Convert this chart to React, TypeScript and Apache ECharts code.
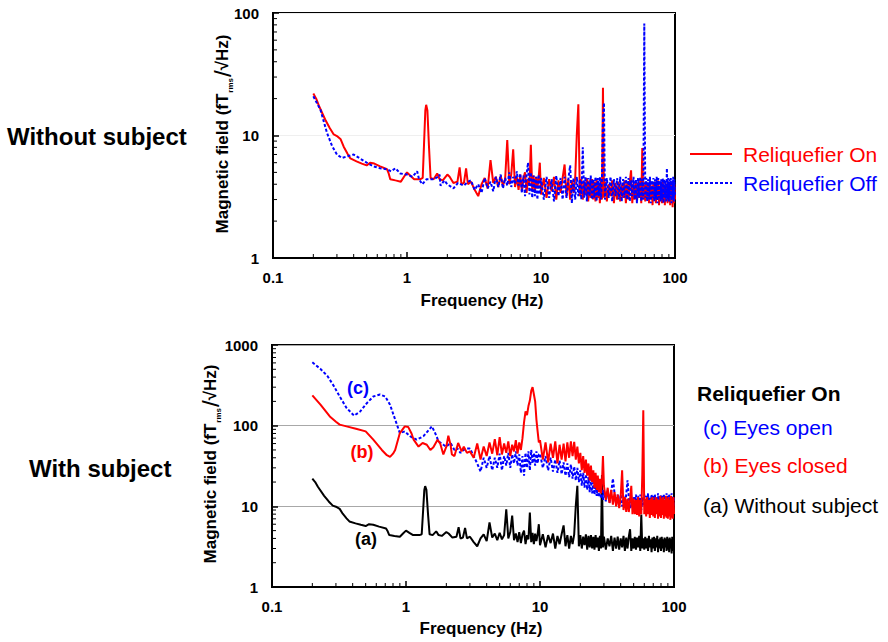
import React, { useEffect, useRef } from 'react';
import * as echarts from 'echarts';

const FONT = '"Liberation Sans", Arial, Helvetica, sans-serif';

// shared frequency grid (Hz) for the dense/noisy part of every spectrum
const noiseFreq = [
  3.0, 3.2, 3.4, 3.6, 3.8, 4.0, 4.2, 4.4, 4.6, 4.8,
  5.0, 5.2, 5.4, 5.6, 5.8, 6.0, 6.2, 6.4, 6.6, 6.8,
  7.0, 7.2, 7.4, 7.6, 7.8, 8.0, 8.2, 8.4, 8.6, 8.8,
  9.0, 9.2, 9.4, 9.6, 9.8,
  10, 10.5, 11, 11.5, 12, 12.5, 13, 13.5, 14, 14.5,
  15, 15.5, 16, 16.5, 17, 17.5, 18, 18.5, 19, 19.5,
  20, 20.5, 21, 21.5, 22, 22.5, 23, 23.5, 24, 24.5,
  25, 25.5, 26, 26.5, 27, 27.5, 28, 28.5, 29, 29.5,
  30, 31, 32, 33, 34, 35, 36, 37, 38, 39,
  40, 41, 42, 43, 44, 45, 46, 47, 48, 49,
  50, 51, 52, 53, 54, 55, 56, 57, 58, 59,
  60, 61, 62, 63, 64, 65, 66, 67, 68, 69,
  70, 71, 72, 73, 74, 75, 76, 77, 78, 79,
  80, 81, 82, 83, 84, 85, 86, 87, 88, 89,
  90, 91, 92, 93, 94, 95, 96, 97, 98, 99, 100,
];

// ---- Without subject: Reliquefier On (also curve (a) below) ----
const onLow = [
  [0.2, 22], [0.21, 20], [0.22, 17.5], [0.245, 13.5], [0.265, 11.5], [0.284, 10.2], [0.3, 9.9],
  [0.32, 9.3], [0.337, 8.1], [0.36, 7.1], [0.378, 6.5], [0.42, 6.15], [0.46, 5.9], [0.5, 5.7],
  [0.53, 6.0], [0.57, 5.9], [0.63, 5.6], [0.71, 5.3], [0.73, 4.9], [0.75, 4.4], [0.82, 4.3],
  [0.9, 4.2], [0.95, 4.6], [1.0, 5.0], [1.06, 4.7], [1.13, 4.4], [1.26, 4.4], [1.31, 4.5],
  [1.34, 8.5], [1.37, 16], [1.39, 17.8], [1.42, 16], [1.46, 8], [1.5, 4.5], [1.58, 4.4],
  [1.68, 4.9], [1.75, 4.4], [1.85, 4.3], [2.0, 4.8], [2.08, 4.6], [2.22, 4.1], [2.38, 4.2],
  [2.47, 5.5], [2.55, 4.0], [2.66, 4.1], [2.76, 5.4], [2.85, 4.0],
];
const onNoise = [
  4.2, 3.6, 3.2, 4.0, 4.5, 3.7, 6.3, 4.1, 4.6, 3.8,
  4.7, 3.9, 4.4, 9.2, 4.0, 4.8, 7.7, 3.8, 4.6, 3.6,
  4.8, 3.5, 4.5, 5.0, 3.4, 4.4, 3.9, 8.4, 3.6, 4.7,
  3.4, 4.6, 3.7, 4.5, 6.0,
  3.3, 4.5, 3.1, 4.4, 3.5, 4.6, 3.0, 4.3, 3.4, 4.5,
  5.8, 3.2, 4.4, 3.0, 4.3, 3.4, 4.5, 10.2, 18.0, 3.2,
  4.4, 3.0, 4.2, 3.3, 4.5, 2.9, 4.3, 3.1, 4.4, 3.0,
  4.2, 2.9, 4.4, 3.1, 4.1, 2.8, 4.3, 3.0, 24.5, 3.1,
  4.2, 2.9, 4.0, 3.2, 4.3, 2.8, 4.1, 3.0, 4.2, 2.9,
  4.0, 3.1, 4.3, 2.8, 4.1, 3.0, 4.2, 5.2, 2.8, 4.0,
  3.0, 4.2, 2.9, 4.1, 3.1, 4.3, 2.8, 7.9, 3.0, 4.0,
  2.9, 4.2, 3.0, 4.0, 2.8, 4.3, 3.1, 3.9, 2.7, 4.1,
  3.0, 4.2, 2.8, 4.0, 3.1, 4.3, 2.7, 3.9, 3.0, 4.1,
  2.8, 4.2, 3.0, 3.9, 2.7, 4.1, 3.1, 4.0, 2.8, 4.2,
  2.9, 4.0, 2.7, 4.1, 3.0, 3.9, 2.6, 4.2, 2.8, 4.0, 3.0,
];

// ---- Without subject: Reliquefier Off ----
const offLow = [
  [0.2, 20.9], [0.226, 16.2], [0.253, 10.5], [0.276, 8.2], [0.3, 7.0], [0.327, 6.55],
  [0.357, 6.75], [0.4, 7.0], [0.45, 6.45], [0.5, 6.0], [0.56, 5.6], [0.63, 5.4], [0.71, 5.3],
  [0.76, 5.1], [0.82, 5.4], [0.89, 4.9], [1.0, 4.8], [1.1, 4.6], [1.19, 5.1], [1.23, 4.4],
  [1.3, 4.0], [1.4, 4.4], [1.58, 4.4], [1.7, 4.6], [1.75, 4.8], [1.78, 3.9], [1.9, 4.3],
  [2.0, 4.0], [2.22, 3.7], [2.4, 4.1], [2.66, 3.9], [2.85, 4.2],
];
const offNoise = [
  4.3, 3.6, 4.0, 3.4, 4.5, 3.7, 4.2, 3.5, 4.6, 3.8,
  4.8, 3.7, 4.5, 3.9, 5.0, 3.8, 4.6, 4.0, 5.1, 3.9,
  4.9, 3.4, 4.7, 3.2, 4.8, 6.0, 3.3, 5.0, 3.1, 4.7,
  3.2, 4.6, 3.0, 4.8, 3.3,
  4.5, 3.0, 4.6, 3.1, 4.4, 2.9, 4.7, 3.2, 4.5, 3.0,
  4.6, 3.1, 4.4, 5.7, 2.8, 4.5, 3.0, 4.6, 3.2, 4.4,
  3.0, 8.0, 3.1, 4.6, 2.9, 4.5, 3.2, 4.7, 3.0, 4.4,
  3.1, 4.6, 2.9, 4.5, 3.2, 4.6, 3.0, 4.4, 13.0, 18.5,
  3.0, 4.5, 3.1, 4.6, 2.9, 4.4, 3.2, 4.5, 3.0, 4.6,
  2.9, 4.4, 3.1, 4.6, 3.0, 4.5, 2.9, 4.3, 3.2, 4.6,
  3.0, 4.4, 2.8, 4.5, 3.1, 4.6, 2.9, 4.4, 3.0, 82,
  3.1, 4.5, 2.9, 4.4, 3.0, 4.6, 2.8, 4.3, 3.1, 4.5,
  2.9, 4.4, 3.0, 4.6, 2.8, 4.5, 3.1, 4.3, 2.9, 4.4,
  3.0, 4.5, 2.8, 4.4, 3.1, 4.3, 2.9, 5.4, 3.0, 4.5,
  2.9, 4.4, 3.1, 4.5, 2.8, 4.3, 3.0, 4.6, 2.9, 4.4, 3.2,
];

// ---- With subject (b) Eyes closed ----
const closedLow = [
  [0.2, 238], [0.23, 182], [0.27, 130], [0.3, 112], [0.32, 103], [0.36, 98], [0.43, 91],
  [0.5, 85], [0.57, 67], [0.66, 50], [0.72, 43], [0.76, 41], [0.8, 45], [0.83, 50],
  [0.9, 81], [0.98, 98], [1.04, 96], [1.1, 80], [1.14, 67], [1.24, 55], [1.33, 61],
  [1.43, 58], [1.52, 50], [1.6, 54], [1.72, 67], [1.8, 60], [1.9, 44], [2.0, 55],
  [2.07, 75], [2.15, 58], [2.2, 44], [2.3, 42], [2.45, 61], [2.6, 48], [2.7, 55], [2.85, 46],
];
const closedNoise = [
  48, 40, 60, 38, 55, 42, 62, 45, 68, 43,
  72, 44, 60, 46, 64, 42, 58, 48, 66, 45,
  62, 50, 70, 110, 150, 135, 175, 205, 270, 300,
  245, 200, 120, 85, 62,
  66, 38, 62, 35, 60, 40, 64, 34, 58, 38,
  60, 36, 62, 40, 64, 42, 63, 38, 55, 34,
  46, 28, 42, 26, 38, 24, 34, 21, 32, 20,
  28, 17, 26, 16, 24, 15, 22, 14.5, 20, 42,
  18, 12, 17, 11, 16, 10.5, 15, 10, 14, 9.5,
  13, 28, 9, 13, 8.5, 12.5, 8.5, 12, 18, 8,
  12.5, 8, 12, 7.8, 13, 7.5, 12, 8, 25, 155,
  8, 12.5, 7.5, 13, 8, 12, 7.2, 12.5, 7.8, 13,
  7.5, 12, 7.2, 13, 8, 12.5, 7, 12, 7.5, 13.5,
  7.2, 12.5, 7.8, 13, 7, 12, 7.5, 13.5, 7.2, 12.5,
  7, 13, 7.5, 12, 6.8, 13.5, 7.2, 12.5, 7, 13, 8,
];

// ---- With subject (c) Eyes open ----
const openLow = [
  [0.2, 610], [0.23, 505], [0.26, 410], [0.29, 308], [0.32, 230], [0.36, 166], [0.41, 133],
  [0.455, 150], [0.51, 190], [0.57, 230], [0.64, 243], [0.7, 230], [0.76, 182], [0.83, 119],
  [0.9, 81], [0.98, 85], [1.07, 74], [1.2, 67], [1.35, 74], [1.45, 85], [1.52, 93],
  [1.56, 98], [1.65, 81], [1.75, 64], [1.9, 58], [2.0, 55], [2.15, 61], [2.3, 50],
  [2.4, 53], [2.55, 46], [2.7, 50], [2.85, 52],
];
const openNoise = [
  52, 42, 34, 27, 40, 30, 42, 28, 40, 30,
  45, 28, 42, 32, 46, 30, 44, 34, 48, 32,
  44, 26, 42, 24, 46, 30, 48, 28, 50, 34,
  46, 32, 48, 34, 44,
  45, 30, 42, 28, 40, 27, 38, 26, 37, 25,
  35, 24, 34, 23, 33, 22, 31, 21, 30, 20,
  28, 18, 26, 17, 25, 16, 23, 15, 22, 14.5,
  20, 14, 19, 13.5, 18, 13, 17, 12.5, 16.5, 12,
  16, 11.5, 15.5, 11, 15, 22, 14.5, 10.5, 14, 10,
  14, 10, 13.5, 9.5, 14, 21, 13, 9.5, 13.5, 9.5,
  13, 9.5, 14, 9, 13.5, 9.5, 14, 9, 13, 10,
  14, 9.5, 13.5, 9, 14.5, 9.5, 13, 10, 14, 9.5,
  13.5, 9, 14, 9.5, 13, 10, 14.5, 9, 13.5, 9.5,
  14, 9.5, 13.5, 9, 14, 10, 13, 9.5, 14.5, 9,
  13.5, 10, 14, 9.5, 13, 10, 14.5, 9.5, 13.5, 10, 13,
];

// axis decorations
const minorX = [0.2, 0.3, 0.4, 0.5, 0.6, 0.7, 0.8, 0.9, 2, 3, 4, 5, 6, 7, 8, 9, 20, 30, 40, 50, 60, 70, 80, 90];
const minorYTop = [2, 3, 4, 5, 6, 7, 8, 9, 20, 30, 40, 50, 60, 70, 80, 90];
const minorYBottom = [2, 3, 4, 5, 6, 7, 8, 9, 20, 30, 40, 50, 60, 70, 80, 90, 200, 300, 400, 500, 600, 700, 800, 900];

const topLegend = ['Reliquefier On', 'Reliquefier Off'];
const bottomLegendTitle = 'Reliquefier On';
const bottomLegend = ['(c) Eyes open', '(b) Eyes closed', '(a) Without subject'];

function build(low: number[][], noise: number[]) {
  const out = low.slice();
  noiseFreq.forEach((f, i) => {
    if (noise[i] !== undefined) out.push([f, noise[i]]);
  });
  return out;
}

function lineSeries(name: string, gi: number, data: number[][], color: string, dotted: boolean, z: number) {
  return {
    type: 'line',
    name,
    xAxisIndex: gi,
    yAxisIndex: gi,
    data,
    showSymbol: false,
    symbol: 'none',
    z,
    lineStyle: { color, width: 2, type: dotted ? [3, 2] : 'solid' },
    silent: true,
  };
}

function minorSeries(gi: number, data: number[][], horizontal: boolean) {
  return {
    type: 'custom',
    xAxisIndex: gi,
    yAxisIndex: gi,
    silent: true,
    clip: false,
    z: 10,
    encode: { x: 0, y: 1 },
    data,
    renderItem: (_p: any, api: any) => {
      const p = api.coord([api.value(0), api.value(1)]);
      return {
        type: 'line',
        shape: horizontal
          ? { x1: p[0], y1: p[1], x2: p[0] + 4, y2: p[1] }
          : { x1: p[0], y1: p[1], x2: p[0], y2: p[1] - 4 },
        style: { stroke: '#000', lineWidth: 1 },
      };
    },
  };
}

function xAxisDef(gi: number) {
  return {
    type: 'log',
    logBase: 10,
    gridIndex: gi,
    min: 0.1,
    max: 100,
    axisLine: { show: true, lineStyle: { color: '#000', width: 2 } },
    axisTick: { show: true, inside: true, length: 6, lineStyle: { color: '#000', width: 1.5 } },
    axisLabel: { color: '#000', fontSize: 15, fontWeight: 'bold', fontFamily: FONT, margin: 12, formatter: (v: number) => String(v) },
    splitLine: { show: false },
    name: 'Frequency (Hz)',
    nameLocation: 'middle',
    nameGap: gi === 0 ? 34 : 33,
    nameTextStyle: { color: '#000', fontSize: 17, fontWeight: 'bold', fontFamily: FONT, padding: [0, 0, 0, 16] },
  };
}

function yAxisDef(gi: number, max: number, gridColor: string) {
  return {
    type: 'log',
    logBase: 10,
    gridIndex: gi,
    min: 1,
    max,
    axisLine: { show: true, lineStyle: { color: '#000', width: 2 } },
    axisTick: { show: true, inside: true, length: 6, lineStyle: { color: '#000', width: 1.5 } },
    axisLabel: { color: '#000', fontSize: 15, fontWeight: 'bold', fontFamily: FONT, margin: 14, formatter: (v: number) => String(v) },
    splitLine: { show: true, lineStyle: { color: gridColor, width: 1 } },
  };
}

const yTitleRich = {
  m: { fontSize: 17, fontWeight: 'bold', fontFamily: FONT, color: '#000' },
  s: { fontSize: 8, fontWeight: 'bold', fontFamily: FONT, color: '#000', verticalAlign: 'bottom', padding: [0, 1, 0, 1] },
  sl: { fontSize: 24, fontFamily: FONT, color: '#000' },
};
const yTitleText = '{m|Magnetic field (fT}{s|rms}{sl|/}{m|√Hz)}';

export default function App() {
  const ref = useRef<HTMLDivElement>(null);
  useEffect(() => {
    if (!ref.current) return;
    const chart = echarts.init(ref.current, undefined, { renderer: 'svg' });
    const option: any = {
      animation: false,
      backgroundColor: '#fff',
      textStyle: { fontFamily: FONT },
      grid: [
        { left: 273, top: 13, width: 402, height: 245, show: true, borderColor: '#000', borderWidth: 2 },
        { left: 272, top: 345, width: 402, height: 242, show: true, borderColor: '#000', borderWidth: 2 },
      ],
      xAxis: [xAxisDef(0), xAxisDef(1)],
      yAxis: [yAxisDef(0, 100, '#efefef'), yAxisDef(1, 1000, '#a8a8a8')],
      series: [
        lineSeries(topLegend[0], 0, build(onLow, onNoise), '#ff0000', false, 2),
        lineSeries(topLegend[1], 0, build(offLow, offNoise), '#0000ff', true, 3),
        lineSeries(bottomLegend[2], 1, build(onLow, onNoise), '#000000', false, 2),
        lineSeries(bottomLegend[0], 1, build(openLow, openNoise), '#0000ff', true, 3),
        lineSeries(bottomLegend[1], 1, build(closedLow, closedNoise), '#ff0000', false, 4),
        minorSeries(0, minorX.map((v) => [v, 1]), false),
        minorSeries(0, minorYTop.map((v) => [0.1, v]), true),
        minorSeries(1, minorX.map((v) => [v, 1]), false),
        minorSeries(1, minorYBottom.map((v) => [0.1, v]), true),
      ],
      graphic: [
        { type: 'text', left: 7, top: 124, style: { text: 'Without subject', font: `bold 24px ${FONT}`, fill: '#000' } },
        { type: 'text', left: 29, top: 456, style: { text: 'With subject', font: `bold 24px ${FONT}`, fill: '#000' } },
        {
          type: 'text', x: 222, y: 134, rotation: Math.PI / 2,
          style: { text: yTitleText, rich: yTitleRich, align: 'center', verticalAlign: 'middle' },
        },
        {
          type: 'text', x: 210, y: 464, rotation: Math.PI / 2,
          style: { text: yTitleText, rich: yTitleRich, align: 'center', verticalAlign: 'middle' },
        },
        // top legend
        { type: 'line', shape: { x1: 690, y1: 154, x2: 732, y2: 154 }, style: { stroke: '#ff0000', lineWidth: 2 } },
        { type: 'line', shape: { x1: 690, y1: 183, x2: 732, y2: 183 }, style: { stroke: '#0000ff', lineWidth: 2, lineDash: [3, 2] } },
        { type: 'text', x: 743, y: 154, style: { text: topLegend[0], font: `21px ${FONT}`, fill: '#ff0000', verticalAlign: 'middle' } },
        { type: 'text', x: 743, y: 183, style: { text: topLegend[1], font: `21px ${FONT}`, fill: '#0000ff', verticalAlign: 'middle' } },
        // bottom legend
        { type: 'text', x: 697, y: 393, style: { text: bottomLegendTitle, font: `bold 21px ${FONT}`, fill: '#000', verticalAlign: 'middle' } },
        { type: 'text', x: 703, y: 427, style: { text: bottomLegend[0], font: `21px ${FONT}`, fill: '#0000ff', verticalAlign: 'middle' } },
        { type: 'text', x: 703, y: 465, style: { text: bottomLegend[1], font: `21px ${FONT}`, fill: '#ff0000', verticalAlign: 'middle' } },
        { type: 'text', x: 703, y: 505, style: { text: bottomLegend[2], font: `21px ${FONT}`, fill: '#000', verticalAlign: 'middle' } },
        // curve annotations
        { type: 'text', x: 358, y: 388, style: { text: '(c)', font: `bold 18px ${FONT}`, fill: '#0000ff', align: 'center', verticalAlign: 'middle' } },
        { type: 'text', x: 362, y: 452, style: { text: '(b)', font: `bold 18px ${FONT}`, fill: '#ff0000', align: 'center', verticalAlign: 'middle' } },
        { type: 'text', x: 366, y: 539, style: { text: '(a)', font: `bold 18px ${FONT}`, fill: '#000', align: 'center', verticalAlign: 'middle' } },
      ],
    };
    chart.setOption(option);
    return () => chart.dispose();
  }, []);
  return <div ref={ref} style={{ position: 'absolute', left: 0, top: 0, width: 888, height: 642, background: '#fff' }} />;
}
